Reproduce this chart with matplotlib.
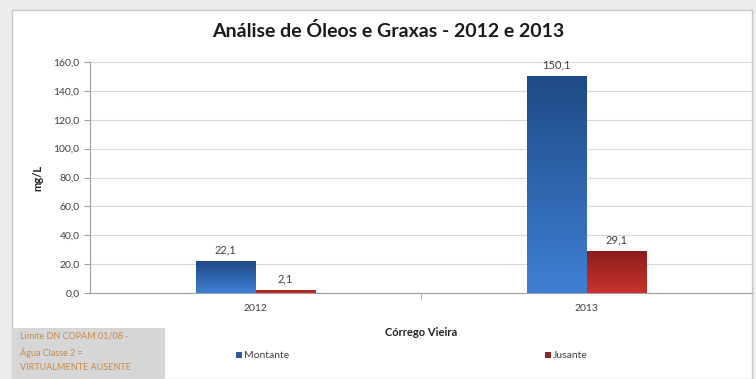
import numpy as np
import matplotlib.pyplot as plt
from matplotlib.patches import Rectangle
from matplotlib.colors import LinearSegmentedColormap
from matplotlib.ticker import FuncFormatter

plt.rcParams['font.family'] = ['Lato', 'DejaVu Sans']

years = ['2012', '2013']
montante = [22.1, 150.1]
jusante = [2.1, 29.1]
series_names = ['Montante', 'Jusante']

W, H = 756, 379
fig = plt.figure(figsize=(W / 100, H / 100), dpi=100)
fig.patch.set_facecolor('#ececec')

# white chart panel
fig.add_artist(Rectangle((12 / W, 0), 740 / W, 1 - 10 / H, transform=fig.transFigure,
                         facecolor='white', edgecolor='#c8c8c8', lw=1.0, zorder=0))

ax = fig.add_axes([90 / W, 1 - 293 / H, 662 / W, 231 / H])
ax.set_facecolor('none')

x = np.arange(len(years))
bw = 0.18

blue_cmap = LinearSegmentedColormap.from_list('b', ['#3f80d4', '#1e4a86'])
red_cmap = LinearSegmentedColormap.from_list('r', ['#c9332c', '#8a1d1d'])


def gradient_bars(xpos, vals, cmap):
    bars = ax.bar(xpos, vals, bw, color='none', edgecolor='none', zorder=3)
    grad = np.linspace(0, 1, 256).reshape(-1, 1)
    for b in bars:
        x0, y0 = b.get_x(), b.get_y()
        im = ax.imshow(grad, cmap=cmap, aspect='auto', origin='lower',
                       extent=[x0, x0 + b.get_width(), y0, y0 + b.get_height()], zorder=3)
        im.set_clip_path(b)
    return bars


gradient_bars(x - bw / 2, montante, blue_cmap)
gradient_bars(x + bw / 2, jusante, red_cmap)

for xi, v in zip(x - bw / 2, montante):
    ax.text(xi, v + 4, f'{v:.1f}'.replace('.', ','), ha='center', va='bottom',
            fontsize=8, color='#404040')
for xi, v in zip(x + bw / 2, jusante):
    ax.text(xi, v + 4, f'{v:.1f}'.replace('.', ','), ha='center', va='bottom',
            fontsize=8, color='#404040')

ax.set_xlim(-0.5, 1.5)
ax.set_ylim(0, 160)
ax.set_yticks(np.arange(0, 161, 20))
ax.yaxis.set_major_formatter(FuncFormatter(lambda v, p: f'{v:.1f}'.replace('.', ',')))
ax.set_xticks(x)
ax.set_xticklabels(years)
ax.set_xticks([0.5], minor=True)
ax.tick_params(axis='x', which='major', length=0, labelsize=7.5, colors='#404040', pad=8)
ax.tick_params(axis='x', which='minor', length=4, color='#a0a0a0', direction='out')
ax.tick_params(axis='y', length=4, color='#a0a0a0', labelsize=7.5, labelcolor='#404040')
ax.grid(axis='y', color='#d9d9d9', lw=0.8, zorder=0)
ax.set_axisbelow(True)
for s in ['top', 'right']:
    ax.spines[s].set_visible(False)
for s in ['left', 'bottom']:
    ax.spines[s].set_color('#a0a0a0')

ax.set_ylabel('mg/L', fontsize=8, fontweight='bold', color='#222222', labelpad=7)
ax.set_xlabel('Córrego Vieira', fontsize=8, fontweight='bold', color='#222222', labelpad=10)

fig.text(388 / W, 1 - 31 / H, 'Análise de Óleos e Graxas - 2012 e 2013', ha='center',
         va='center', fontsize=14, fontweight='bold', color='#1a1a1a')

# legend entries
fig.add_artist(Rectangle((236 / W, 1 - 358 / H), 6 / W, 6 / H, transform=fig.transFigure,
                         facecolor='#2a5a9a', edgecolor='none'))
fig.text(244 / W, 1 - 355 / H, series_names[0], fontsize=7.5, color='#404040', va='center')
fig.add_artist(Rectangle((545 / W, 1 - 358 / H), 6 / W, 6 / H, transform=fig.transFigure,
                         facecolor='#8a2a2a', edgecolor='none'))
fig.text(553 / W, 1 - 355 / H, series_names[1], fontsize=7.5, color='#404040', va='center')

# limit note box
fig.add_artist(Rectangle((12 / W, 0), 153 / W, 51 / H, transform=fig.transFigure,
                         facecolor='#d6d6d6', edgecolor='none'))
fig.text(20 / W, 1 - 352 / H, 'Limite DN COPAM 01/08 -\nÁgua Classe 2 =\nVIRTUALMENTE AUSENTE',
         fontsize=6.5, color='#c98a4a', va='center', ha='left', linespacing=1.75)

fig.savefig('out.png', dpi=100, facecolor=fig.get_facecolor())
